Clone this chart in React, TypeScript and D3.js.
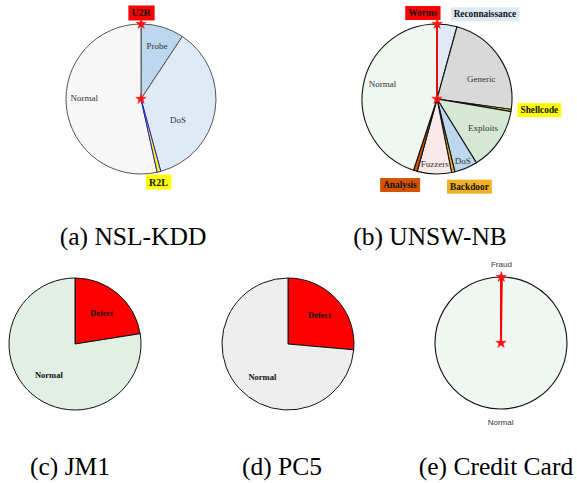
import React, { useLayoutEffect, useRef, useState } from "react";
import * as d3 from "d3";

// ---------- data ----------
const nslCategories = ["U2R", "Probe", "DoS", "R2L", "Normal"];
const nslValues = [52, 11656, 45927, 995, 67343];

const unswCategories = ["Worms", "Reconnaissance", "Generic", "Shellcode", "Exploits", "DoS", "Backdoor", "Fuzzers", "Analysis", "Normal"];
const unswValues = [44, 3496, 18871, 378, 11132, 4089, 583, 6062, 677, 37000];

const jm1Categories = ["Defect", "Normal"];
const jm1Values = [22.5, 77.5];

const pc5Categories = ["Defect", "Normal"];
const pc5Values = [26.4, 73.6];

const ccCategories = ["Fraud", "Normal"];
const ccValues = [492, 284315];

const captions = ["(a) NSL-KDD", "(b) UNSW-NB", "(c) JM1", "(d) PC5", "(e) Credit Card"];

// ---------- style / layout ----------
type LabelSpec = {
  kind: "inside" | "box" | "plain";
  rf: number;
  anchor?: "start" | "middle" | "end";
  dx?: number;
  dy?: number;
  box?: string;
  bold?: boolean;
};

type ChartSpec = {
  cats: string[];
  vals: number[];
  cx: number;
  cy: number;
  r: number;
  colors: string[];
  stroke: string;
  strokeWidth: number;
  sliceStroke?: Record<string, { stroke: string; width: number }>;
  labels: Record<string, LabelSpec>;
  stars?: string[];
  font: string;
  fontSize: number;
  boxSize?: number;
  textColor: string;
  caption: string;
  capX: number;
  capY: number;
};

const SERIF = "'Liberation Serif', 'Times New Roman', serif";
const SANS = "'Liberation Sans', Arial, sans-serif";

const charts: ChartSpec[] = [
  {
    cats: nslCategories,
    vals: nslValues,
    cx: 141, cy: 99, r: 75,
    colors: ["#ff0000", "#bdd7ee", "#deebf7", "#ffff00", "#f7f7f7"],
    stroke: "#555555", strokeWidth: 1,
    sliceStroke: { R2L: { stroke: "#1f1fcf", width: 1 } },
    labels: {
      U2R: { kind: "box", rf: 1.147, anchor: "middle", box: "#ff0000", bold: true },
      Probe: { kind: "inside", rf: 0.74 },
      DoS: { kind: "inside", rf: 0.5, dy: 15 },
      R2L: { kind: "box", rf: 1.14, anchor: "middle", dx: -3, box: "#ffff00", bold: true },
      Normal: { kind: "inside", rf: 0.76, dy: -7 },
    },
    stars: ["U2R"],
    font: SERIF, fontSize: 9, boxSize: 10, textColor: "#333",
    caption: captions[0], capX: 133, capY: 245,
  },
  {
    cats: unswCategories,
    vals: unswValues,
    cx: 437, cy: 99, r: 75,
    colors: ["#ff0000", "#deebf7", "#d9d9d9", "#ffff00", "#d5e8d4", "#bdd7ee", "#f0b020", "#f8eaea", "#d35400", "#f0f6f0"],
    stroke: "#111111", strokeWidth: 1.1,
    sliceStroke: { Worms: { stroke: "#ff0000", width: 1.6 } },
    labels: {
      Worms: { kind: "box", rf: 1.147, anchor: "end", box: "#ff0000", bold: true },
      Reconnaissance: { kind: "box", rf: 1.14, anchor: "start", dx: 5, box: "#deebf7", bold: true },
      Generic: { kind: "inside", rf: 0.64, dx: 4, dy: 6 },
      Shellcode: { kind: "box", rf: 1.14, anchor: "start", dx: -1, dy: -2, box: "#ffff00", bold: true },
      Exploits: { kind: "inside", rf: 0.74, dy: -2 },
      DoS: { kind: "inside", rf: 0.89 },
      Backdoor: { kind: "box", rf: 1.17, anchor: "start", dx: -6, dy: 2, box: "#f0b020", bold: true },
      Fuzzers: { kind: "inside", rf: 0.87 },
      Analysis: { kind: "box", rf: 1.17, anchor: "end", dx: 5, dy: 2, box: "#d35400", bold: true },
      Normal: { kind: "inside", rf: 0.75, dx: 1, dy: -6 },
    },
    stars: ["Worms"],
    font: SERIF, fontSize: 9, boxSize: 9.3, textColor: "#333",
    caption: captions[1], capX: 430, capY: 245,
  },
  {
    cats: jm1Categories,
    vals: jm1Values,
    cx: 75, cy: 344, r: 66,
    colors: ["#ff0000", "#e2efe5"],
    stroke: "#111111", strokeWidth: 1,
    labels: {
      Defect: { kind: "inside", rf: 0.62, bold: true },
      Normal: { kind: "inside", rf: 0.61, bold: true },
    },
    font: SERIF, fontSize: 8.5, textColor: "#111",
    caption: captions[2], capX: 70, capY: 475,
  },
  {
    cats: pc5Categories,
    vals: pc5Values,
    cx: 288, cy: 344, r: 66,
    colors: ["#ff0000", "#eeeeee"],
    stroke: "#111111", strokeWidth: 1,
    labels: {
      Defect: { kind: "inside", rf: 0.65, bold: true },
      Normal: { kind: "inside", rf: 0.63, dx: 5, dy: 5, bold: true },
    },
    font: SERIF, fontSize: 8.5, textColor: "#111",
    caption: captions[3], capX: 282, capY: 475,
  },
  {
    cats: ccCategories,
    vals: ccValues,
    cx: 501, cy: 343, r: 66,
    colors: ["#ff0000", "#f0f6f2"],
    stroke: "#111111", strokeWidth: 1.1,
    sliceStroke: { Fraud: { stroke: "#ff0000", width: 2 } },
    labels: {
      Fraud: { kind: "plain", rf: 1.19 },
      Normal: { kind: "plain", rf: 1.21 },
    },
    stars: ["Fraud"],
    font: SANS, fontSize: 8, textColor: "#333",
    caption: captions[4], capX: 496, capY: 475,
  },
];

function BoxLabel(props: { x: number; y: number; anchor: string; text: string; fill: string; font: string; size: number }) {
  const ref = useRef<SVGTextElement>(null);
  const [bb, setBb] = useState<{ x: number; y: number; w: number; h: number } | null>(null);
  useLayoutEffect(() => {
    if (ref.current) {
      const b = ref.current.getBBox();
      setBb({ x: b.x, y: b.y, w: b.width, h: b.height });
    }
  }, [props.text, props.x, props.y]);
  const padX = 3, padY = 2;
  return (
    <g>
      {bb && <rect x={bb.x - padX} y={bb.y - padY} width={bb.w + 2 * padX} height={bb.h + 2 * padY} fill={props.fill} />}
      <text ref={ref} x={props.x} y={props.y} textAnchor={props.anchor as any} dominantBaseline="central"
        fontFamily={props.font} fontSize={props.size} fontWeight="bold" fill="#111">{props.text}</text>
    </g>
  );
}

function Star({ x, y }: { x: number; y: number }) {
  const p = d3.symbol().type(d3.symbolStar).size(34)() as string;
  return <path d={p} transform={`translate(${x},${y})`} fill="#ff1010" stroke="#ff1010" strokeWidth={0.5} />;
}

function Pie({ c }: { c: ChartSpec }) {
  const arcs = d3.pie<number>().sort(null).value((d) => d)(c.vals);
  const arc = d3.arc<d3.PieArcDatum<number>>().innerRadius(0).outerRadius(c.r);
  const items = arcs.map((a, i) => ({ a, i, cat: c.cats[i] }));
  const ordered = [...items].sort((p, q) => (c.sliceStroke?.[p.cat] ? 1 : 0) - (c.sliceStroke?.[q.cat] ? 1 : 0));
  const pos = (a: d3.PieArcDatum<number>, rf: number) => {
    const m = (a.startAngle + a.endAngle) / 2;
    return [c.cx + rf * c.r * Math.sin(m), c.cy - rf * c.r * Math.cos(m)];
  };
  return (
    <g>
      <g transform={`translate(${c.cx},${c.cy})`}>
        {ordered.map(({ a, i, cat }) => {
          const ss = c.sliceStroke?.[cat];
          return (
            <path key={cat} d={arc(a) as string} fill={c.colors[i]}
              stroke={ss ? ss.stroke : c.stroke} strokeWidth={ss ? ss.width : c.strokeWidth} strokeLinejoin="round" />
          );
        })}
      </g>
      {items.map(({ a, cat }) => {
        const l = c.labels[cat];
        if (!l) return null;
        const [x0, y0] = pos(a, l.rf);
        const x = x0 + (l.dx || 0), y = y0 + (l.dy || 0);
        if (l.kind === "box") {
          return <BoxLabel key={cat} x={x} y={y} anchor={l.anchor || "middle"} text={cat} fill={l.box || "#fff"} font={c.font} size={c.boxSize || c.fontSize} />;
        }
        return (
          <text key={cat} x={x} y={y} textAnchor={l.anchor || "middle"} dominantBaseline="central"
            fontFamily={c.font} fontSize={c.fontSize} fontWeight={l.bold ? "bold" : "normal"} fill={c.textColor}>{cat}</text>
        );
      })}
      {c.stars && (
        <g>
          <Star x={c.cx} y={c.cy} />
          {c.stars.map((cat) => {
            const a = arcs[c.cats.indexOf(cat)];
            const [x, y] = pos(a, 1);
            return <Star key={cat} x={x} y={y} />;
          })}
        </g>
      )}
      <text x={c.capX} y={c.capY} textAnchor="middle" fontFamily={SERIF} fontSize={25.5} fill="#000">{c.caption}</text>
    </g>
  );
}

export default function App() {
  return (
    <svg width={577} height={483} style={{ position: "absolute", left: 0, top: 0, background: "#fff" }}>
      <rect width={577} height={483} fill="#fff" />
      {charts.map((c) => <Pie key={c.caption} c={c} />)}
    </svg>
  );
}
